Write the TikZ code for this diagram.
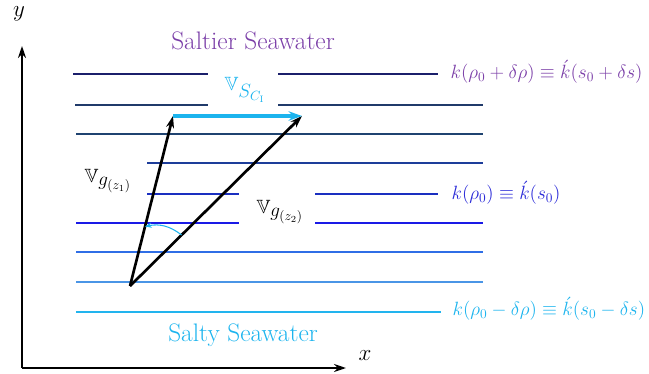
\documentclass[tikz,border=0pt]{standalone}
\usepackage{amsmath,amssymb}
\usepackage{xcolor}
\usetikzlibrary{arrows.meta, calc}
\definecolor{swPurple}{HTML}{7B3FA8}
\definecolor{swBlue}{HTML}{2A2AD8}
\definecolor{swCyan}{HTML}{1CB4EE}
\definecolor{swLa}{HTML}{1B1F6B}
\definecolor{swLb}{HTML}{203A6A}
\definecolor{swLc}{HTML}{1F4370}
\definecolor{swLd}{HTML}{1D3D9A}
\definecolor{swLe}{HTML}{1A2FC0}
\definecolor{swLf}{HTML}{1A1AE6}
\definecolor{swLg}{HTML}{2F6EE6}
\definecolor{swLh}{HTML}{4A95E6}
\definecolor{swLi}{HTML}{22B4EE}
\tikzset{
  sw-axis/.style={-{Stealth[length=9pt,width=6pt]}, line width=1.8pt, black},
  sw-vec/.style={-{Stealth[length=9pt,width=6pt]}, line width=2pt, black},
  sw-shift/.style={-{Stealth[length=10pt,width=7pt]}, line width=3.5pt, draw=swCyan},
  sw-iso/.style={line width=1.4pt},
  sw-label/.style={font=\fontsize{14.4}{16}\selectfont, anchor=west, inner sep=1pt},
  sw-title/.style={font=\fontsize{19}{21}\selectfont},
  sw-vlabel/.style={font=\fontsize{14.4}{16}\selectfont, inner sep=1pt},
}

\begin{document}
\begin{tikzpicture}[x=0.75pt, y=-0.75pt]
  \useasboundingbox (0,0) rectangle (649,374);

  % isopycnal lines
  \foreach \yy/\xa/\xb/\cc in {74/73/208/swLa, 74/278/438/swLa,
      105/75/208/swLb, 105/278/483/swLb, 134/76/483/swLc, 163/147/483/swLd,
      194/147/239/swLe, 194/315/438/swLe, 223/76/239/swLf, 223/315/483/swLf,
      252/76/483/swLg, 282/76/483/swLh, 312/76/441/swLi}
    \draw[sw-iso, draw=\cc] (\xa,\yy) -- (\xb,\yy);

  \node[sw-label, text=swPurple] (ktop) at (449,72) {$k(\rho_0+\delta\rho)\equiv\acute{k}(s_0+\delta s)$};
  \node[sw-label, text=swBlue] (kmid) at (450,193) {$k(\rho_0)\equiv\acute{k}(s_0)$};
  \node[sw-label, text=swCyan] (kbot) at (451,309) {$k(\rho_0-\delta\rho)\equiv\acute{k}(s_0-\delta s)$};

  \node[sw-title, text=swPurple] (saltier) at (253,41) {Saltier Seawater};
  \node[sw-title, text=swCyan] (salty) at (243,335) {Salty Seawater};

  % axes
  \coordinate (orig) at (22,368);
  \coordinate (ytip) at (22,46);
  \coordinate (xtip) at (346,368);
  \draw[sw-axis] (orig) -- (ytip);
  \draw[sw-axis] (orig) -- (xtip);
  \node[font=\fontsize{19}{21}\selectfont] (ylab) at (19,14) {$y$};
  \node[font=\fontsize{19}{21}\selectfont] (xlab) at (365,356) {$x$};

  % vectors
  \coordinate (o) at (130,286);
  \coordinate (p1) at (173,116);
  \coordinate (p2) at (302,116);
  \draw[sw-vec] (o) -- (p1);
  \draw[sw-vec] (o) -- (p2);
  \draw[sw-shift] (p1) -- (p2);
  \draw[-{Stealth[length=5pt,width=4pt]}, line width=0.8pt, swCyan]
    ($(o)!0.30!(p2)$) to[bend right=25] ($(o)!0.35!(p1)$);

  \node[sw-vlabel, text=swCyan] (vsc) at (245,90) {$\mathbb{V}_{\textstyle S_{C_\mathrm{I}}}$};
  \node[sw-vlabel] (vg1) at (108,181) {$\mathbb{V}_{\textstyle g_{(z_1)}}$};
  \node[sw-vlabel] (vg2) at (280,212) {$\mathbb{V}_{\textstyle g_{(z_2)}}$};
\end{tikzpicture}
\end{document}
